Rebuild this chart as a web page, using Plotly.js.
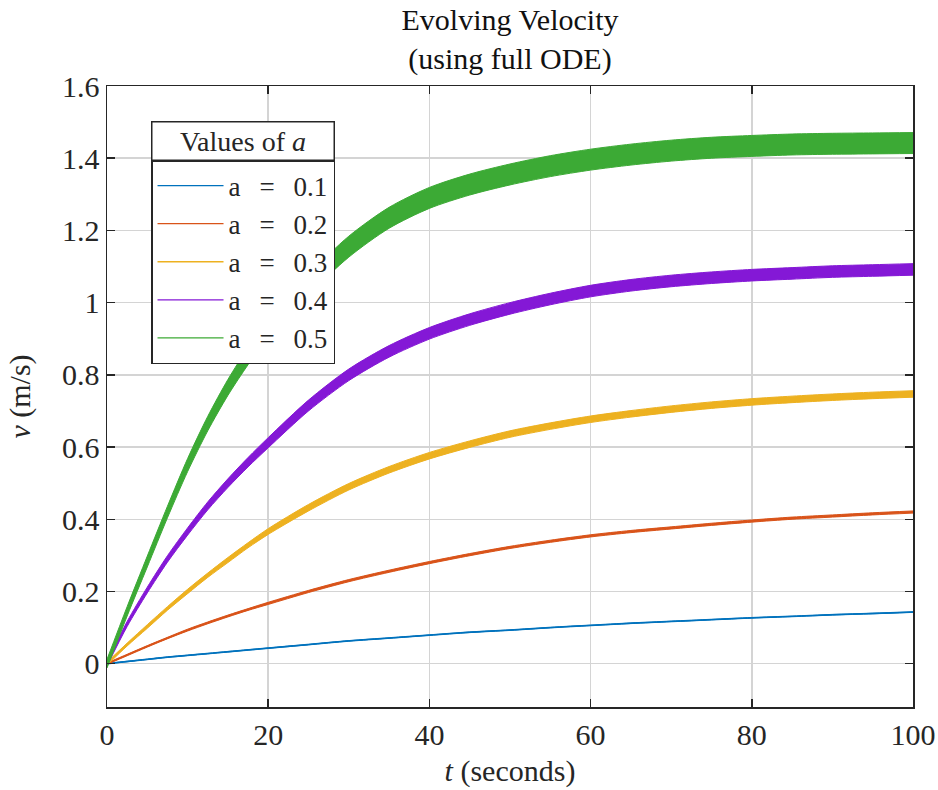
<!DOCTYPE html>
<html>
<head>
<meta charset="utf-8">
<script src="https://cdn.plot.ly/plotly-3.0.1.min.js"></script>
<style>
  html, body { margin: 0; padding: 0; background: #ffffff; }
  #chart { width: 938px; height: 790px; }
</style>
</head>
<body>
<div id="chart"></div>
<script>
// ---- Data ----
const t = [0, 2.5, 5, 7.5, 10, 12.5, 15, 17.5, 20, 25, 30, 35, 40, 45, 50, 55, 60, 65, 70, 75, 80, 85, 90, 95, 100];

const seriesNames = ['a\u2002\u2009=\u2002\u20090.1', 'a\u2002\u2009=\u2002\u20090.2', 'a\u2002\u2009=\u2002\u20090.3', 'a\u2002\u2009=\u2002\u20090.4', 'a\u2002\u2009=\u2002\u20090.5'];
const legendTitle = 'Values of <i>a</i>';

// band centre values (m/s)
const vA01 = [0, 0.006, 0.012, 0.018, 0.023, 0.028, 0.033, 0.038, 0.043, 0.053, 0.063, 0.071, 0.079, 0.087, 0.093, 0.100, 0.106, 0.112, 0.117, 0.122, 0.127, 0.131, 0.1355, 0.139, 0.143];
const vA02 = [0, 0.024, 0.048, 0.071, 0.093, 0.113, 0.132, 0.150, 0.167, 0.200, 0.230, 0.256, 0.280, 0.302, 0.322, 0.339, 0.354, 0.366, 0.376, 0.386, 0.395, 0.403, 0.409, 0.415, 0.420];
const vA03 = [0, 0.053, 0.103, 0.153, 0.200, 0.245, 0.287, 0.328, 0.366, 0.432, 0.490, 0.537, 0.576, 0.608, 0.636, 0.658, 0.677, 0.692, 0.705, 0.716, 0.725, 0.732, 0.738, 0.743, 0.747];
const vA04 = [0, 0.110, 0.204, 0.290, 0.366, 0.437, 0.500, 0.558, 0.612, 0.715, 0.800, 0.865, 0.915, 0.953, 0.984, 1.010, 1.032, 1.048, 1.060, 1.069, 1.076, 1.081, 1.086, 1.089, 1.092];
const vA05 = [0, 0.145, 0.283, 0.420, 0.550, 0.665, 0.765, 0.852, 0.930, 1.050, 1.155, 1.235, 1.290, 1.327, 1.355, 1.378, 1.396, 1.410, 1.421, 1.429, 1.434, 1.438, 1.440, 1.441, 1.442];

// half-height of the oscillation band (m/s)
const ampA01 = [0.001, 0.001, 0.001, 0.001, 0.001, 0.001, 0.001, 0.001, 0.001, 0.001, 0.001, 0.001, 0.001, 0.001, 0.001, 0.001, 0.001, 0.001, 0.001, 0.001, 0.001, 0.001, 0.001, 0.001, 0.001];
const ampA02 = [0.002, 0.002, 0.002, 0.002, 0.0025, 0.0025, 0.0025, 0.0025, 0.003, 0.003, 0.003, 0.003, 0.003, 0.003, 0.003, 0.003, 0.003, 0.003, 0.003, 0.003, 0.003, 0.003, 0.003, 0.003, 0.003];
const ampA03 = [0.004, 0.004, 0.005, 0.005, 0.006, 0.006, 0.007, 0.007, 0.008, 0.009, 0.009, 0.009, 0.009, 0.009, 0.009, 0.009, 0.009, 0.009, 0.009, 0.009, 0.009, 0.009, 0.009, 0.009, 0.009];
const ampA04 = [0.006, 0.007, 0.008, 0.009, 0.010, 0.011, 0.012, 0.013, 0.014, 0.015, 0.016, 0.016, 0.016, 0.016, 0.016, 0.016, 0.016, 0.016, 0.016, 0.016, 0.016, 0.016, 0.016, 0.016, 0.016];
const ampA05 = [0.012, 0.013, 0.015, 0.016, 0.018, 0.020, 0.022, 0.024, 0.026, 0.028, 0.029, 0.029, 0.029, 0.029, 0.029, 0.029, 0.029, 0.029, 0.029, 0.029, 0.029, 0.029, 0.029, 0.029, 0.029];

const xTickVals = [0, 20, 40, 60, 80, 100];
const xTickText = ['0', '20', '40', '60', '80', '100'];
const yTickVals = [0, 0.2, 0.4, 0.6, 0.8, 1.0, 1.2, 1.4, 1.6];
const yTickText = ['0', '0.2', '0.4', '0.6', '0.8', '1', '1.2', '1.4', '1.6'];

// ---- styling ----
const colors = ['#0072BD', '#D95319', '#EDB120', '#8418D6', '#3CAA35'];
const FONT = 'Liberation Serif, Times New Roman, serif';
const INK = '#262626';

const values = [vA01, vA02, vA03, vA04, vA05];
const amps = [ampA01, ampA02, ampA03, ampA04, ampA05];

const traces = [];
for (let i = 0; i < values.length; i++) {
  const lo = values[i].map((v, k) => v - amps[i][k]);
  const hi = values[i].map((v, k) => v + amps[i][k]);
  traces.push({
    x: t, y: values[i], type: 'scatter', mode: 'lines', name: seriesNames[i],
    line: { color: colors[i], width: 1.3, shape: 'spline', smoothing: 0.8 }, showlegend: true
  });
  traces.push({
    x: t, y: lo, type: 'scatter', mode: 'lines',
    line: { color: colors[i], width: 1, shape: 'spline', smoothing: 0.8 }, showlegend: false, hoverinfo: 'skip'
  });
  traces.push({
    x: t, y: hi, type: 'scatter', mode: 'lines', fill: 'tonexty', fillcolor: colors[i],
    line: { color: colors[i], width: 1, shape: 'spline', smoothing: 0.8 }, showlegend: false, hoverinfo: 'skip'
  });
}

// legend geometry (pixels of the 938x790 figure, converted to paper fractions)
const PL = 107, PR = 912.7, PT = 86, PB = 707;
const px2x = p => (p - PL) / (PR - PL);
const px2y = p => (PB - p) / (PB - PT);

const layout = {
  width: 938, height: 790,
  margin: { l: 107, r: 25.3, t: 86, b: 83 },
  paper_bgcolor: '#ffffff', plot_bgcolor: '#ffffff',
  font: { family: FONT, size: 30, color: INK },
  title: {
    text: 'Evolving Velocity<br>(using full ODE)',
    font: { family: FONT, size: 30, color: '#111111' },
    x: 0.5, xref: 'paper', xanchor: 'center',
    y: 0.962, yref: 'container', yanchor: 'top'
  },
  xaxis: {
    range: [0, 100], tickvals: xTickVals, ticktext: xTickText,
    ticks: 'inside', ticklen: 8, tickwidth: 1.5, tickcolor: INK,
    showline: true, linecolor: INK, linewidth: 1.5, mirror: 'ticks',
    showgrid: true, gridcolor: '#d4d4d4', gridwidth: 1.5, zeroline: false,
    tickfont: { family: FONT, size: 30, color: INK },
    title: { text: '<i>t</i> (seconds)', font: { family: FONT, size: 30, color: INK }, standoff: 10 }
  },
  yaxis: {
    range: [-0.12, 1.6], tickvals: yTickVals, ticktext: yTickText,
    ticks: 'inside', ticklen: 8, tickwidth: 1.5, tickcolor: INK,
    showline: true, linecolor: INK, linewidth: 1.5, mirror: 'ticks',
    showgrid: true, gridcolor: '#d4d4d4', gridwidth: 1.5, zeroline: false,
    tickfont: { family: FONT, size: 30, color: INK },
    title: { text: '<i>v</i> (m/s)', font: { family: FONT, size: 30, color: INK }, standoff: 22 }
  },
  legend: {
    x: px2x(151), y: px2y(160), xanchor: 'left', yanchor: 'top',
    bgcolor: '#ffffff', bordercolor: INK, borderwidth: 1.5,
    font: { family: FONT, size: 27, color: INK },
    traceorder: 'normal', itemwidth: 66, tracegroupgap: 0
  },
  annotations: [{
    text: legendTitle, xref: 'paper', yref: 'paper',
    x: px2x(151), y: px2y(121), xanchor: 'left', yanchor: 'top',
    showarrow: false, width: 181, height: 37, align: 'center', valign: 'middle',
    bgcolor: '#ffffff', bordercolor: INK, borderwidth: 1.5, borderpad: 0,
    font: { family: FONT, size: 28, color: INK }
  }],
  showlegend: true
};

Plotly.newPlot('chart', traces, layout, { displayModeBar: false, staticPlot: true });
</script>
</body>
</html>
